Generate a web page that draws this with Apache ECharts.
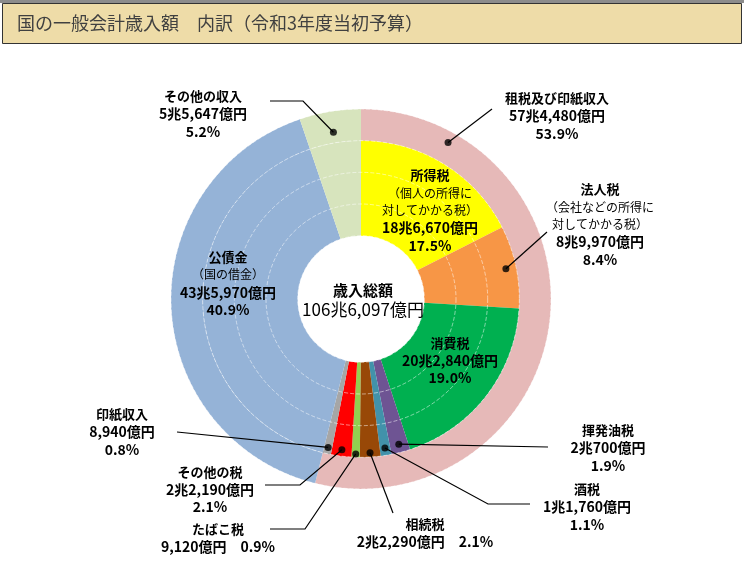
<!DOCTYPE html>
<html><head><meta charset="utf-8">
<script src="https://cdn.jsdelivr.net/npm/echarts@6/dist/echarts.min.js"></script>
<style>html,body{margin:0;padding:0;background:#fff}#c{width:744px;height:570px}</style>
</head><body><div id="c"></div>
<script>
// ---------------- data ----------------
const titleText = '国の一般会計歳入額　内訳（令和3年度当初予算）';
const innerNames = ['所得税','法人税','消費税','揮発油税','酒税','相続税','たばこ税','その他の税','印紙収入','公債金','その他の収入'];
const innerValues = [186670, 89970, 202840, 20700, 11760, 22290, 9120, 22190, 8940, 435970, 55647]; // 億円
const innerNotes = ['（個人の所得に\n対してかかる税）','（会社などの所得に\n対してかかる税）','','','','','','','','（国の借金）',''];
const outerNames = ['租税及び印紙収入','公債金','その他の収入'];
const outerValues = [574480, 435970, 55647]; // 億円
const totalName = '歳入総額';

// ---------------- styles / layout ----------------
const FONT = "'Noto Sans CJK JP','Noto Sans CJK SC',sans-serif";
const CX = 361, CY = 299, R = 190, BAND = R / 6;
const innerColors = ['#FFFF00','#F79646','#00B050','#6E5493','#4292AA','#984807','#92D050','#FF0000','#A6A6A6','#95B3D7','#D7E4BD'];
const outerColors = ['#E6B9B8','#95B3D7','#D7E4BD'];
const labelAt = {
  '所得税': [430, 210.5],
  '法人税': [600, 224.5],
  '消費税': [450, 360.5],
  '揮発油税': [608, 448],
  '酒税': [587, 507],
  '相続税': [425, 532.5],
  'たばこ税': [218, 537.5],
  'その他の税': [210, 489.5],
  '印紙収入': [122, 432],
  '公債金': [228, 283.5],
  'その他の収入': [203, 114],
  '租税及び印紙収入': [557, 116]
};
const dotAt = { // [radius px, position inside the slice 0..1]
  '法人税': [148, 0.5], '揮発油税': [150, 0.5], '酒税': [151, 0.5], '相続税': [154, 0.5],
  'たばこ税': [155, 0.5], 'その他の税': [152, 0.5], '印紙収入': [152, 0.5],
  'その他の収入': [169, 0.5], '租税及び印紙収入': [179, 0.15]
};
const bends = {
  'その他の収入': [[303, 101], [270, 101]],
  '租税及び印紙収入': [[492, 109]],
  '法人税': [[547, 232]],
  '揮発油税': [[548, 447]],
  '酒税': [[488, 504], [530, 504]],
  '相続税': [[393, 513]],
  'たばこ税': [[305, 529], [270, 529]],
  'その他の税': [[300, 485], [265, 485]],
  '印紙収入': [[177, 432]]
};
const inlinePct = {'たばこ税': true, '相続税': true};

// ---------------- helpers ----------------
const total = innerValues.reduce((a, b) => a + b, 0);
function fmtAmount(v) {
  const cho = Math.floor(v / 10000), oku = v % 10000;
  return (cho > 0 ? cho + '兆' : '') + oku.toLocaleString('en-US') + '億円';
}
function fmtPct(v) { return (v / total * 100).toFixed(1) + '%'; }
function labelText(name, value, note) {
  const parts = ['{h|' + name + '}'];
  if (note) note.split('\n').forEach(s => parts.push('{s|' + s + '}'));
  const amt = fmtAmount(value), pct = fmtPct(value);
  if (inlinePct[name]) parts.push('{v|' + amt + '　' + pct + '}');
  else { parts.push('{v|' + amt + '}'); parts.push('{v|' + pct + '}'); }
  return parts.join('\n');
}
function cumStarts(vals) { let c = 0; return vals.map(v => { const s = c; c += v; return s; }); }
const innerStart = cumStarts(innerValues), outerStart = cumStarts(outerValues);
function dotAngle(name) {
  const j = outerNames.indexOf(name);
  if (j === 0) return outerStart[0] + dotAt[name][1] * outerValues[0];
  const i = innerNames.indexOf(name);
  return innerStart[i] + dotAt[name][1] * innerValues[i];
}
function dotPixel(name) {
  const a = (90 - dotAngle(name) / total * 360) * Math.PI / 180;
  const r = dotAt[name][0];
  return [CX + r * Math.cos(a), CY - r * Math.sin(a)];
}
// labelled items: inner items with a label + the outer tax total
const labelNames = innerNames.filter(n => labelAt[n]).concat([outerNames[0]]);
function valueOf(name) {
  const i = innerNames.indexOf(name);
  return i >= 0 ? innerValues[i] : outerValues[outerNames.indexOf(name)];
}
function noteOf(name) {
  const i = innerNames.indexOf(name);
  return i >= 0 ? innerNotes[i] : '';
}
function layoutFor(name) {
  const p = labelAt[name];
  const res = {x: p[0], y: p[1], align: 'center', verticalAlign: 'middle'};
  if (bends[name]) res.labelLinePoints = [dotPixel(name)].concat(bends[name]);
  return res;
}
const rich = {
  h: {fontSize: 13, fontWeight: 'bold', lineHeight: 17.5, fontFamily: FONT, color: '#000'},
  s: {fontSize: 12, lineHeight: 17.5, fontFamily: FONT, color: '#000'},
  v: {fontSize: 14, fontWeight: 'bold', lineHeight: 17.5, fontFamily: FONT, color: '#000'}
};

const innerData = innerNames.map((n, i) => ({name: n, value: innerValues[i], itemStyle: {color: innerColors[i]}}));
const outerData = outerNames.map((n, i) => ({name: n, value: outerValues[i], itemStyle: {color: outerColors[i]}}));
const labelData = labelNames.map(n => ({
  name: n, value: valueOf(n), itemStyle: {color: 'rgba(0,0,0,0)'},
  labelLine: {show: !!bends[n]}
}));
const dotNames = Object.keys(dotAt);
const dotData = dotNames.map(n => [dotAt[n][0], dotAngle(n)]);

const chart = echarts.init(document.getElementById('c'), null, {renderer: 'canvas'});
chart.setOption({
  animation: false,
  backgroundColor: '#fff',
  polar: {center: [CX, CY], radius: R},
  angleAxis: {type: 'value', min: 0, max: total, startAngle: 90, clockwise: true, show: false},
  radiusAxis: {
    type: 'value', min: 0, max: R, interval: BAND, z: 4,
    axisLine: {show: false}, axisTick: {show: false}, axisLabel: {show: false},
    splitLine: {show: true, lineStyle: {color: 'rgba(255,255,255,0.5)', width: 1, type: [4, 2]}}
  },
  graphic: [
    {type: 'rect', shape: {x: 0, y: 0, width: 744, height: 3}, style: {fill: '#8c8c8c'}},
    {type: 'rect', shape: {x: 2.5, y: 3.5, width: 739, height: 40}, style: {fill: '#EEDCA8', stroke: '#333', lineWidth: 1}},
    {type: 'text', x: 17, y: 23.5, style: {text: titleText, font: '18px ' + FONT, fill: '#404040', verticalAlign: 'middle'}},
    {type: 'text', x: CX + 2, y: CY + 1, z: 10, style: {
      text: '{h|' + totalName + '}\n{c|' + fmtAmount(total) + '}', align: 'center', verticalAlign: 'middle',
      rich: {
        h: {fontSize: 15, fontWeight: 'bold', lineHeight: 19, fontFamily: FONT, fill: '#000', align: 'center'},
        c: {fontSize: 17, lineHeight: 19, fontFamily: FONT, fill: '#000', align: 'center'}
      }
    }}
  ],
  series: [
    {
      type: 'pie', name: 'outer', center: [CX, CY], radius: [BAND * 5, R], startAngle: 90, clockwise: true,
      silent: true, z: 2, itemStyle: {borderWidth: 0}, label: {show: false}, labelLine: {show: false},
      data: outerData
    },
    {
      type: 'pie', name: 'inner', center: [CX, CY], radius: [BAND * 2, BAND * 5], startAngle: 90, clockwise: true,
      silent: true, z: 3, itemStyle: {borderWidth: 0}, label: {show: false}, labelLine: {show: false},
      data: innerData
    },
    {
      type: 'pie', name: 'labels', center: [CX, CY], radius: [BAND * 2, BAND * 5], startAngle: 90, clockwise: true,
      avoidLabelOverlap: false, silent: true, z: 5,
      itemStyle: {borderWidth: 0},
      label: {show: true, position: 'outside', overflow: 'none', fontFamily: FONT, color: '#000', rich,
        formatter: p => labelText(p.name, p.value, noteOf(p.name))},
      labelLine: {showAbove: true, length: 5, length2: 5, smooth: false, lineStyle: {color: '#000', width: 1.2}},
      labelLayout: p => layoutFor(labelNames[p.dataIndex]),
      data: labelData
    },
    {
      type: 'scatter', coordinateSystem: 'polar', z: 6, silent: true,
      symbol: 'circle', symbolSize: 7, itemStyle: {color: '#000'},
      data: dotData
    }
  ]
});
</script></body></html>
